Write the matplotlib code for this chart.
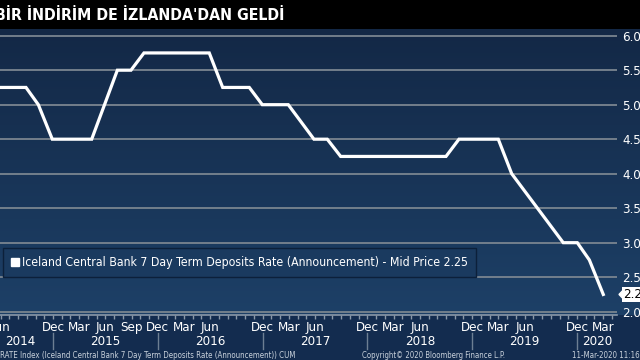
import matplotlib
matplotlib.use("Agg")
import matplotlib.pyplot as plt
import matplotlib.transforms as mtransforms
import numpy as np
from matplotlib import font_manager as fm
from matplotlib.lines import Line2D
from matplotlib.patches import Polygon, Rectangle

# rate path (x in decimal years, y in %)
t = [2014.37, 2014.742, 2014.860, 2014.993, 2015.369, 2015.614, 2015.744, 2015.868,
     2016.491, 2016.619, 2016.873, 2016.997, 2017.245, 2017.490, 2017.617, 2017.745,
     2018.750, 2018.874, 2019.249, 2019.377, 2019.869, 2020.003, 2020.118, 2020.251]
rate = [5.25, 5.25, 5.0, 4.5, 4.5, 5.5, 5.5, 5.75,
        5.75, 5.25, 5.25, 5.0, 5.0, 4.5, 4.5, 4.25,
        4.25, 4.5, 4.5, 4.0, 3.0, 3.0, 2.75, 2.25]

# labelled months (year, month) - label sits on the month end
month_ticks = [(2014, 6), (2014, 12), (2015, 3), (2015, 6), (2015, 9), (2015, 12),
               (2016, 3), (2016, 6), (2016, 12), (2017, 3), (2017, 6), (2017, 12),
               (2018, 3), (2018, 6), (2018, 12), (2019, 3), (2019, 6), (2019, 12),
               (2020, 3)]
month_names = {3: "Mar", 6: "Jun", 9: "Sep", 12: "Dec"}
years = [2014, 2015, 2016, 2017, 2018, 2019, 2020]
yticks = [2.0, 2.5, 3.0, 3.5, 4.0, 4.5, 5.0, 5.5, 6.0]

title = "BİR İNDİRİM DE İZLANDA'DAN GELDİ"
legend_label = "Iceland Central Bank 7 Day Term Deposits Rate (Announcement) - Mid Price 2.25"
footer = "RATE Index (Iceland Central Bank 7 Day Term Deposits Rate (Announcement)) CUM"
copyright_txt = "Copyright© 2020 Bloomberg Finance L.P."
stamp = "11-Mar-2020 11:16"


# terminal font is narrow, try a condensed face if one is installed
def find_font(bold):
    for f in fm.fontManager.ttflist:
        fn = f.fname.lower()
        if "dejavusanscondensed" in fn and "oblique" not in fn:
            if ("bold" in fn) == bold:
                return fm.FontProperties(fname=f.fname)
    return fm.FontProperties(family="Liberation Sans",
                             weight="bold" if bold else "normal")


reg = find_font(False)
bld = find_font(True)
plt.rcParams['font.family'] = [reg.get_name(), 'Liberation Sans', 'DejaVu Sans']


def fp(size, base=reg):
    p = base.copy()
    p.set_size(size)
    return p


W, H = 640, 360
fig = plt.figure(figsize=(6.4, 3.6), dpi=100, facecolor="#132c4f")

# title bar
fig.add_artist(Rectangle((0, 1 - 29 / H), 1, 29 / H, transform=fig.transFigure,
                         color="black", zorder=0))
fig.text(-5 / W, 1 - 15 / H, title, color="white", fontproperties=fp(11.4, bld),
         va="center", ha="left")

# gradient background behind the plot and the right scale
bg = fig.add_axes([0, 45 / H, 1, 286 / H], zorder=0)
top_c = np.array([19, 40, 70]) / 255
bot_c = np.array([29, 64, 103]) / 255
grad = np.linspace(0, 1, 256)[:, None, None]
img = top_c * (1 - grad) + bot_c * grad
bg.imshow(img, aspect="auto", extent=[0, 1, 0, 1])
bg.axis("off")

ax = fig.add_axes([-13 / W, 45 / H, 630 / W, 286 / H], zorder=1)
ax.patch.set_alpha(0)

for y in yticks:
    ax.axhline(y, color="#7a8590", lw=1.3, zorder=1)

ax.plot(t, rate, color="white", lw=2.3, zorder=3, solid_joinstyle="miter")

ax.set_xlim(2014.37, 2020.382)
ax.set_ylim(1.952, 6.097)

for s in ["top", "left", "right"]:
    ax.spines[s].set_visible(False)
ax.spines["bottom"].set_color("#8a98a8")
ax.spines["bottom"].set_linewidth(1.2)

# monthly ticks
ax.set_xticks(np.arange(np.ceil(2014.37 * 12), np.floor(2020.382 * 12) + 1) / 12)
ax.tick_params(axis="x", length=3, width=1, color="#8a98a8", labelbottom=False)

ax.yaxis.tick_right()
ax.set_yticks(yticks)
ax.set_yticklabels(["%.1f" % v for v in yticks])
ax.tick_params(axis="y", length=0, pad=4, labelcolor="white")
for lab in ax.get_yticklabels():
    lab.set_fontproperties(fp(9.5))

# month / year labels under the axis
trans = mtransforms.blended_transform_factory(ax.transData, fig.transFigure)
x0, x1 = ax.get_xlim()
for yr, m in month_ticks:
    pos = yr + m / 12
    dx = 0
    if pos > x1 - 0.05:
        dx = -0.08  # pull the last label inside like the terminal does
    tr = trans + mtransforms.ScaledTranslation(dx, 0, fig.dpi_scale_trans)
    ax.text(pos, (H - 327.5) / H, month_names[m], transform=tr, color="white",
            fontproperties=fp(9.5), ha="center", va="center", clip_on=False)

for yr in years:
    lo, hi = max(yr, x0), min(yr + 1, x1)
    ax.text((lo + hi) / 2, (H - 341.5) / H, str(yr), transform=trans, color="white",
            fontproperties=fp(9.5), ha="center", va="center", clip_on=False)
    if x0 < yr < x1:
        ax.plot([yr, yr], [(H - 349) / H, (H - 333) / H], transform=trans,
                color="#6d7f93", lw=1, clip_on=False)

# footer
fig.text(0, (H - 355) / H, footer, color="#c9d2dc", fontproperties=fp(5.7), va="center")
fig.text(433 / W, (H - 355) / H, copyright_txt, color="#c9d2dc", fontproperties=fp(5.6),
         va="center", ha="center")
fig.text(572 / W, (H - 355) / H, stamp, color="#c9d2dc", fontproperties=fp(5.7),
         va="center")

# legend
handle = Line2D([], [], marker="s", color="white", ls="none", markersize=5.5)
leg = ax.legend([handle], [legend_label], loc="lower left",
                bbox_to_anchor=(3 / W, (H - 277) / H), bbox_transform=fig.transFigure,
                frameon=True, fancybox=False, framealpha=1, facecolor="#1a3a5f",
                edgecolor="#0c203a", prop=fp(8.8), handlelength=0.6,
                handletextpad=0.3, borderpad=0.65, borderaxespad=0)
for txt in leg.get_texts():
    txt.set_color("white")

# last price tag on the right scale
tag = mtransforms.blended_transform_factory(ax.transAxes, ax.transData)
last = rate[-1]
ax.add_patch(Polygon([(1 + 2 / 630, last), (1 + 7 / 630, last + 0.075),
                      (1 + 7 / 630, last - 0.075)], closed=True, transform=tag,
                     color="white", clip_on=False, zorder=5))
ax.text(1 + 6 / 630, last, "%.2f" % last, transform=tag, color="black",
        fontproperties=fp(9.5), va="center", ha="left", clip_on=False, zorder=6,
        bbox=dict(boxstyle="square,pad=0.1", fc="white", ec="none"))

fig.savefig("out.png", dpi=100, facecolor=fig.get_facecolor())
